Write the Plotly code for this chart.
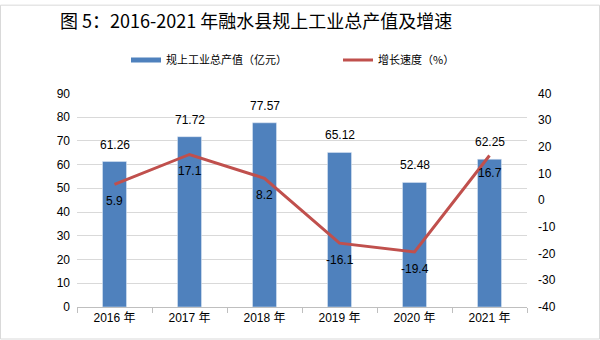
import plotly.graph_objects as go

years = ["2016 年", "2017 年", "2018 年", "2019 年", "2020 年", "2021 年"]
output_value = [61.26, 71.72, 77.57, 65.12, 52.48, 62.25]
growth = [5.9, 17.1, 8.2, -16.1, -19.4, 16.7]
left_ticks = list(range(0, 100, 10))
right_ticks = list(range(-40, 50, 10))

BLUE = "#4F81BD"
RED = "#C0504D"
FONT = "Liberation Sans, Arial, Noto Sans CJK SC, sans-serif"

fig = go.Figure()
fig.add_trace(go.Bar(x=years, y=output_value, marker_color=BLUE, showlegend=False,
                     hoverinfo="skip"))
fig.add_trace(go.Scatter(x=years, y=growth, yaxis="y2", mode="lines",
                         line=dict(color=RED, width=3), showlegend=False, hoverinfo="skip"))
# legend entries
fig.add_trace(go.Scatter(x=[None], y=[None], mode="lines", line=dict(color=BLUE, width=5),
                         name="规上工业总产值（亿元）"))
fig.add_trace(go.Scatter(x=[None], y=[None], mode="lines", line=dict(color=RED, width=3),
                         name="增长速度（%）"))

annotations = []
for yr, v in zip(years, output_value):
    annotations.append(dict(x=yr, y=v, xref="x", yref="y", text=f"{v:.2f}", showarrow=False,
                            yanchor="bottom", yshift=8, font=dict(size=12, color="#000", family=FONT)))
for yr, g in zip(years, growth):
    annotations.append(dict(x=yr, y=g, xref="x", yref="y2", text=f"{g:g}", showarrow=False,
                            yanchor="middle", yshift=-17, font=dict(size=12, color="#000", family=FONT)))

fig.update_layout(
    width=600, height=340,
    margin=dict(l=77, r=73, t=90, b=33),
    paper_bgcolor="white", plot_bgcolor="white",
    bargap=0.68,
    font=dict(family=FONT, size=12, color="#000"),
    title=dict(text="图 5：2016-2021 年融水县规上工业总产值及增速", x=60/600, xanchor="left",
               xref="container", y=1 - 22/340, yref="container", yanchor="middle",
               font=dict(size=18, color="#000", family="Noto Sans CJK SC")),
    annotations=annotations,
    legend=dict(orientation="h", x=126/600, xanchor="left", xref="container",
                y=1 - 60/340, yanchor="middle", yref="container",
                font=dict(size=11, family="Noto Sans CJK SC", color="#000"),
                entrywidth=167, itemwidth=30),
    xaxis=dict(showline=True, linecolor="#BFBFBF", linewidth=1, ticks="outside",
               tickson="boundaries", ticklen=5, tickcolor="#BFBFBF",
               tickfont=dict(size=12, family=FONT), showgrid=False),
    yaxis=dict(range=[0, 90], tickvals=left_ticks, showgrid=True, gridcolor="#D9D9D9",
               zeroline=False, showline=False, tickfont=dict(size=12, family=FONT), ticks="",
               ticklabelstandoff=6),
    yaxis2=dict(range=[-40, 40], tickvals=right_ticks, ticktext=[str(t) for t in right_ticks],
                overlaying="y", side="right",
                showgrid=False, zeroline=False, showline=False, tickfont=dict(size=12, family=FONT),
                ticklabelstandoff=10),
    shapes=[dict(type="rect", xref="paper", yref="paper", x0=-76.5/450, x1=1+72.5/450,
                 y0=-32.5/217, y1=1+89.5/217, line=dict(color="#D9D9D9", width=1))],
)
fig.write_html("out.html")
